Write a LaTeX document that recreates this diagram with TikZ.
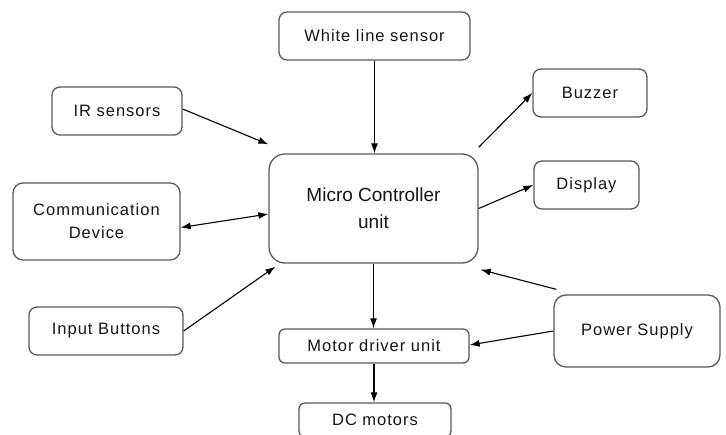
\documentclass[tikz,border=0pt]{standalone}
\usepackage{fontspec}
\setmainfont{Liberation Sans}[LetterSpace=6]
\usetikzlibrary{arrows.meta}
\definecolor{edge}{HTML}{5A5A5A}
\definecolor{ink}{HTML}{161616}
\tikzset{
  blk/.style={draw=edge, line width=1.3pt, rounded corners=8pt, fill=white,
    text=ink, align=center, inner sep=0pt,
    font=\fontsize{16.5}{23}\selectfont},
  link/.style={draw=black, line width=1.1pt, -{Latex[length=10pt,width=7pt]}},
  both/.style={link, {Latex[length=10pt,width=7pt]}-{Latex[length=10pt,width=7pt]}}
}
\begin{document}
\begin{tikzpicture}[x=1pt, y=-1pt]
\useasboundingbox (0,0) rectangle (726,434);

% blocks
\node[blk, minimum width=191pt, minimum height=48pt] (wls) at (374.5,36) {White line sensor};
\node[blk, minimum width=130pt, minimum height=48pt] (ir)  at (117,111) {IR sensors};
\node[blk, minimum width=167pt, minimum height=77pt, rounded corners=10pt] (com) at (96.5,221.5) {Communication\\Device};
\node[blk, minimum width=154pt, minimum height=48pt] (inp) at (106,331) {Input Buttons};
\node[blk, minimum width=209pt, minimum height=109pt, rounded corners=16pt,
      font={\addfontfeature{LetterSpace=0}\fontsize{19}{27}\selectfont}] (mcu) at (373.5,208.5) {Micro Controller\\unit};
\node[blk, minimum width=114pt, minimum height=48pt] (buz) at (590,93) {Buzzer};
\node[blk, minimum width=105pt, minimum height=48pt] (disp) at (586.5,185) {Display};
\node[blk, minimum width=166pt, minimum height=72pt, rounded corners=12pt] (pwr) at (637,331) {Power Supply};
\node[blk, minimum width=190pt, minimum height=34pt, rounded corners=6pt] (mdu) at (374,346) {Motor driver unit};
\node[blk, minimum width=152pt, minimum height=34pt, rounded corners=6pt] (dc)  at (375,420) {DC motors};

% connectors
\draw[link] (wls.south) -- (wls.south |- mcu.north);
\draw[link] ([yshift=2pt]ir.east) -- ([yshift=9pt]mcu.north west);
\draw[both] ([yshift=-6pt]com.east) -- ([yshift=-5.5pt]mcu.west);
\draw[link] (inp.east) -- ([xshift=7pt,yshift=-3pt]mcu.south west);
\draw[link] ([yshift=6pt]mcu.north east) -- (buz.west);
\draw[link] (mcu.east) -- (disp.west);
\draw[link] ([xshift=3pt,yshift=5pt]pwr.north west) -- ([xshift=2pt,yshift=-6pt]mcu.south east);
\draw[link] (pwr.west) -- ([yshift=1pt]mdu.east);
\draw[link] (mcu.south) -- (mcu.south |- mdu.north);
\draw[link] (mdu.south) -- (mdu.south |- dc.north);
\end{tikzpicture}
\end{document}
